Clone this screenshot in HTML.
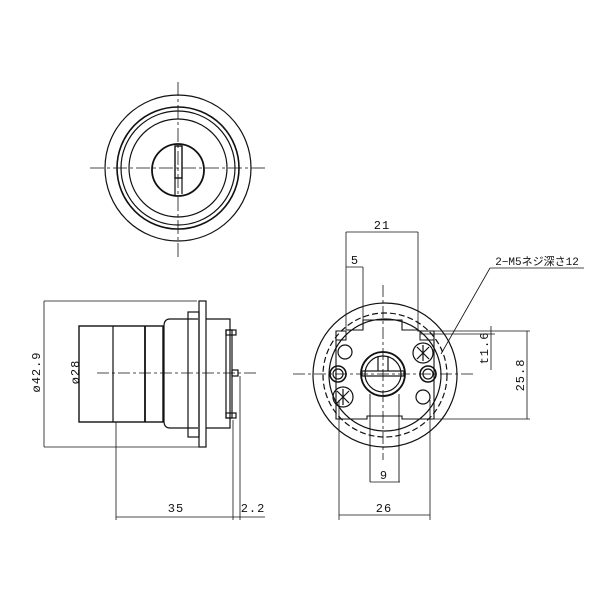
<!DOCTYPE html>
<html><head><meta charset="utf-8"><style>body{margin:0;background:#fff}svg{display:block}</style></head>
<body>
<svg width="600" height="600" viewBox="0 0 600 600" xmlns="http://www.w3.org/2000/svg" fill="none" stroke="#111" stroke-width="1.2" font-family="'Liberation Mono','Noto Sans CJK JP',monospace">
<!-- top view -->
<g>
<circle cx="178" cy="168" r="73"/>
<circle cx="178" cy="168" r="61" stroke-width="1.6"/>
<circle cx="178" cy="168" r="57"/>
<circle cx="178" cy="168" r="49"/>
<circle cx="178" cy="170" r="26" stroke-width="1.8"/>
<rect x="175" y="146" width="7" height="32" stroke-width="1.4"/>
<line x1="175" y1="178" x2="175" y2="195"/><line x1="182" y1="178" x2="182" y2="194"/>
<line x1="178" y1="82" x2="178" y2="260" stroke-width="0.8" stroke-dasharray="14,3,3,3"/>
<line x1="90" y1="168" x2="268" y2="168" stroke-width="0.8" stroke-dasharray="14,3,3,3"/>
</g>
<!-- side view -->
<g>
<line x1="44" y1="301" x2="197" y2="301" stroke-width="0.8"/>
<line x1="44" y1="447" x2="199" y2="447" stroke-width="0.8"/>
<line x1="44" y1="301" x2="44" y2="447" stroke-width="0.8"/>
<rect x="79" y="326" width="84" height="96" stroke-width="1.4"/>
<line x1="113" y1="326" x2="113" y2="422"/>
<line x1="145" y1="326" x2="145" y2="422" stroke-width="1.8"/>
<path d="M198 319 H170 Q164 319 164 326 V421 Q164 428 170 428 H198"/>
<rect x="188" y="312" width="11" height="125"/>
<rect x="199" y="301" width="7" height="146"/>
<path d="M206 319 H230 V428 H206"/>
<rect x="226" y="330" width="6" height="88"/>
<rect x="226" y="330" width="10" height="5"/>
<rect x="226" y="413" width="10" height="5"/>
<rect x="232" y="370" width="6" height="6"/>
<line x1="97" y1="373" x2="256" y2="373" stroke-width="0.8" stroke-dasharray="12,3,3,3"/>
<line x1="116" y1="422" x2="116" y2="520" stroke-width="0.8"/>
<line x1="233" y1="420" x2="233" y2="520" stroke-width="0.8"/>
<line x1="240" y1="376" x2="240" y2="520" stroke-width="0.8"/>
<line x1="116" y1="517" x2="265" y2="517" stroke-width="0.8"/>
</g>
<g fill="#111" stroke="none" font-size="12" letter-spacing="1">
<text x="176" y="512" text-anchor="middle">35</text>
<text x="253" y="512" text-anchor="middle">2.2</text>
<text transform="translate(40,372) rotate(-90)" text-anchor="middle">ø42.9</text>
<text transform="translate(79,372) rotate(-90)" text-anchor="middle">ø28</text>
</g>
<!-- front view -->
<g>
<circle cx="385" cy="375" r="72"/>
<circle cx="385" cy="375" r="62" stroke-dasharray="6,3"/>
<circle cx="385" cy="375" r="56"/>
<path d="M346 330 H363 V320 H402 V330 H418 V331 H434 V419 H402 V416 H367 V419 H336 V331 H346" stroke-width="1.1"/>
<path d="M336 340 H346 V331 M420 331 V340 H434" stroke-width="1"/>
<circle cx="383" cy="374" r="22" stroke-width="1.8"/>
<circle cx="383" cy="374" r="18"/>
<rect x="362" y="371" width="42" height="5"/>
<line x1="378" y1="356" x2="378" y2="371"/><line x1="388" y1="356" x2="388" y2="371"/>
<line x1="370" y1="394" x2="370" y2="482" stroke-width="0.9"/><line x1="399" y1="394" x2="399" y2="482" stroke-width="0.9"/>
<circle cx="345" cy="352" r="7"/>
<circle cx="338" cy="374" r="8" stroke-width="1.6"/><circle cx="338" cy="374" r="5"/>
<circle cx="343" cy="397" r="10"/><path d="M337 391 L349 403 M349 391 L337 403 M343 389 V405"/>
<circle cx="423" cy="353" r="10"/><path d="M417 347 L429 359 M429 347 L417 359 M423 345 V361"/>
<circle cx="428" cy="374" r="8" stroke-width="1.6"/><circle cx="428" cy="374" r="5"/>
<circle cx="423" cy="397" r="7"/>
<line x1="383" y1="285" x2="383" y2="460" stroke-width="0.8" stroke-dasharray="12,3,3,3"/>
<line x1="293" y1="374" x2="474" y2="374" stroke-width="0.8" stroke-dasharray="12,3,3,3"/>
<!-- dims -->
<line x1="346" y1="232" x2="418" y2="232" stroke-width="0.8"/>
<line x1="346" y1="232" x2="346" y2="330" stroke-width="0.8"/>
<line x1="418" y1="232" x2="418" y2="330" stroke-width="0.8"/>
<line x1="346" y1="267" x2="363" y2="267" stroke-width="0.8"/>
<line x1="363" y1="267" x2="363" y2="320" stroke-width="0.8"/>
<line x1="490" y1="268" x2="584" y2="268" stroke-width="0.8"/>
<line x1="490" y1="268" x2="441" y2="354" stroke-width="0.8"/>
<line x1="420" y1="331" x2="530" y2="331" stroke-width="0.8"/>
<line x1="420" y1="334" x2="495" y2="334" stroke-width="0.8"/>
<line x1="434" y1="419" x2="530" y2="419" stroke-width="0.8"/>
<line x1="491" y1="326" x2="491" y2="370" stroke-width="0.8"/>
<line x1="527" y1="331" x2="527" y2="419" stroke-width="0.8"/>
<line x1="370" y1="482" x2="400" y2="482" stroke-width="0.8"/>
<line x1="339" y1="400" x2="339" y2="520" stroke-width="0.8"/>
<line x1="430" y1="400" x2="430" y2="520" stroke-width="0.8"/>
<line x1="339" y1="515" x2="430" y2="515" stroke-width="0.8"/>
</g>
<g fill="#111" stroke="none" font-size="12" letter-spacing="1">
<text x="382" y="229" text-anchor="middle">21</text>
<text x="355" y="264" text-anchor="middle">5</text>
<text x="537" y="265" text-anchor="middle" font-size="11" letter-spacing="0">2−M5ネジ深さ12</text>
<text transform="translate(488,348) rotate(-90)" text-anchor="middle">t1.6</text>
<text transform="translate(524,375) rotate(-90)" text-anchor="middle">25.8</text>
<text x="384" y="479" text-anchor="middle">9</text>
<text x="384" y="512" text-anchor="middle">26</text>
</g>
</svg>
</body></html>
